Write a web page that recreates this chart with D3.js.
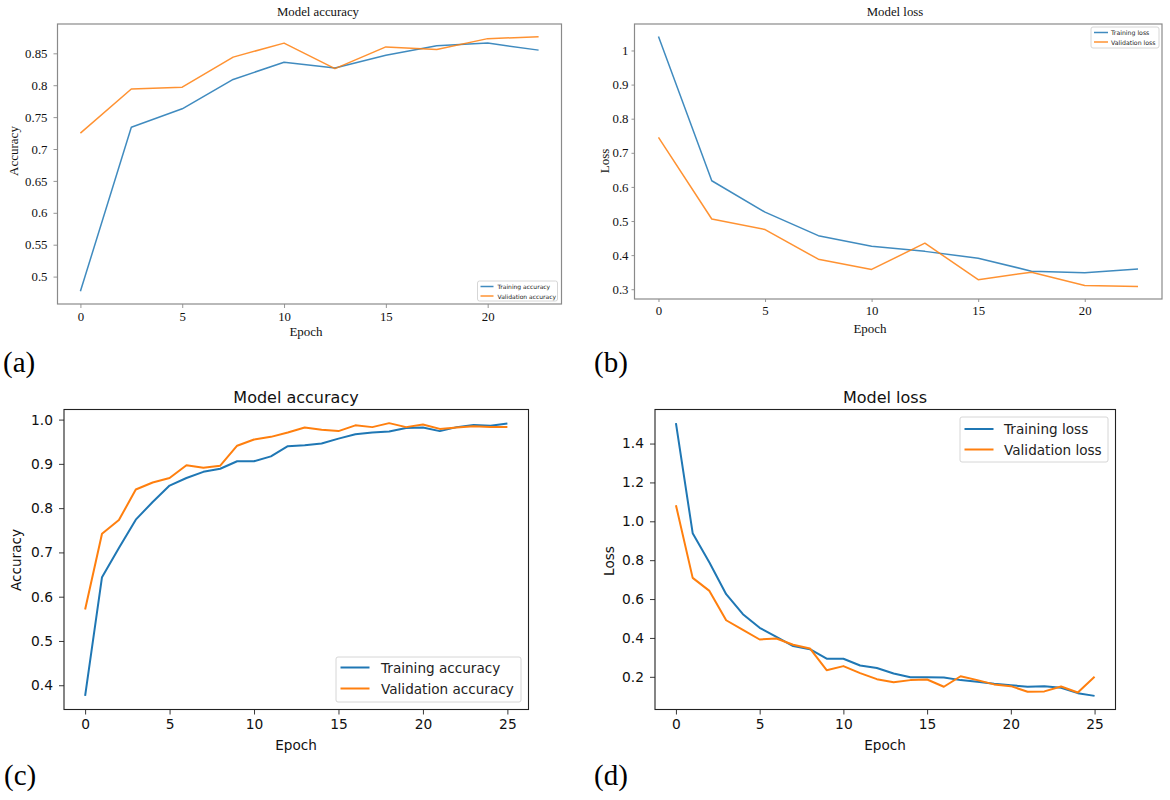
<!DOCTYPE html>
<html>
<head>
<meta charset="utf-8">
<script src="https://cdn.jsdelivr.net/npm/d3@7"></script>
<style>
  body { margin: 0; background: #fff; }
  svg { display: block; }
</style>
</head>
<body>
<svg id="chart" width="1170" height="800"></svg>
<script>

// ---- data ----
const epochsAB = [0, 2.5, 5, 7.5, 10, 12.5, 15, 17.5, 20, 22.5];
const trainAccA = [0.477, 0.734, 0.763, 0.809, 0.836, 0.827, 0.847, 0.862, 0.866, 0.855];
const valAccA   = [0.725, 0.794, 0.797, 0.844, 0.866, 0.826, 0.860, 0.856, 0.873, 0.876];
const trainLossB = [1.041, 0.618, 0.526, 0.457, 0.426, 0.411, 0.391, 0.353, 0.348, 0.359];
const valLossB   = [0.745, 0.506, 0.475, 0.388, 0.358, 0.435, 0.328, 0.350, 0.311, 0.308];

const epochsCD = [0, 1, 2, 3, 4, 5, 6, 7, 8, 9, 10, 11, 12, 13, 14, 15, 16, 17, 18, 19, 20, 21, 22, 23, 24, 25];
const trainAccC = [0.376, 0.644, 0.710, 0.774, 0.814, 0.851, 0.868, 0.882, 0.889, 0.906, 0.906, 0.917, 0.940,
                   0.942, 0.946, 0.957, 0.967, 0.971, 0.973, 0.981, 0.982, 0.974, 0.983, 0.988, 0.986, 0.991];
const valAccC   = [0.571, 0.742, 0.773, 0.842, 0.858, 0.868, 0.897, 0.891, 0.896, 0.941, 0.955, 0.961, 0.971,
                   0.982, 0.977, 0.974, 0.987, 0.983, 0.992, 0.983, 0.989, 0.979, 0.982, 0.985, 0.983, 0.983];
const trainLossD = [1.505, 0.939, 0.788, 0.625, 0.522, 0.452, 0.406, 0.358, 0.342, 0.293, 0.293, 0.258, 0.245,
                    0.217, 0.198, 0.198, 0.197, 0.183, 0.174, 0.164, 0.157, 0.149, 0.152, 0.144, 0.116, 0.102];
const valLossD   = [1.083, 0.709, 0.642, 0.491, 0.442, 0.392, 0.397, 0.365, 0.346, 0.234, 0.255, 0.219, 0.188,
                    0.172, 0.183, 0.186, 0.149, 0.203, 0.183, 0.161, 0.152, 0.123, 0.125, 0.150, 0.119, 0.200];

const xTicksAB = [0, 5, 10, 15, 20];
const xTicksCD = [0, 5, 10, 15, 20, 25];
const yTicksA = [0.5, 0.55, 0.6, 0.65, 0.7, 0.75, 0.8, 0.85];
const yLabelsA = ["0.5", "0.55", "0.6", "0.65", "0.7", "0.75", "0.8", "0.85"];
const yTicksB = [0.3, 0.4, 0.5, 0.6, 0.7, 0.8, 0.9, 1];
const yLabelsB = ["0.3", "0.4", "0.5", "0.6", "0.7", "0.8", "0.9", "1"];
const yTicksC = [0.4, 0.5, 0.6, 0.7, 0.8, 0.9, 1.0];
const yLabelsC = ["0.4", "0.5", "0.6", "0.7", "0.8", "0.9", "1.0"];
const yTicksD = [0.2, 0.4, 0.6, 0.8, 1.0, 1.2, 1.4];
const yLabelsD = ["0.2", "0.4", "0.6", "0.8", "1.0", "1.2", "1.4"];

const blue = "#1f77b4", orange = "#ff7f0e";

const svg = d3.select("#chart");

// matplotlib style padding: 5% on each side of the data range
function padded(vals) {
  const [lo, hi] = d3.extent(vals);
  const m = (hi - lo) * 0.05;
  return [lo - m, hi + m];
}

function panel(cfg) {
  const g = svg.append("g");
  const x = d3.scaleLinear().domain(padded(cfg.xs)).range([cfg.left, cfg.right]);
  const y = d3.scaleLinear().domain(padded(cfg.series[0].vals.concat(cfg.series[1].vals))).range([cfg.bottom, cfg.top]);

  const xAxis = g.append("g")
    .attr("transform", "translate(0," + cfg.bottom + ")")
    .call(d3.axisBottom(x).tickValues(cfg.xTicks).tickFormat(d3.format("d"))
      .tickSize(cfg.tickLen).tickPadding(cfg.xPad));
  const yAxis = g.append("g")
    .attr("transform", "translate(" + cfg.left + ",0)")
    .call(d3.axisLeft(y).tickValues(cfg.yTicks).tickFormat((d, i) => cfg.yLabels[i])
      .tickSize(cfg.tickLen).tickPadding(cfg.yPad));

  [xAxis, yAxis].forEach(a => {
    a.select(".domain").remove();
    a.selectAll("line").attr("stroke", cfg.frameColor).attr("stroke-width", 0.9);
    a.selectAll("text")
      .attr("font-family", cfg.font)
      .attr("font-size", cfg.tickSize)
      .attr("fill", "#111");
  });

  const line = d3.line()
    .x((d, i) => x(cfg.xs[i]))
    .y(d => y(d));

  cfg.series.forEach(s => {
    g.append("path")
      .datum(s.vals)
      .attr("fill", "none")
      .attr("stroke", s.color)
      .attr("stroke-opacity", cfg.lineOpacity)
      .attr("stroke-width", cfg.lineWidth)
      .attr("stroke-linejoin", "round")
      .attr("d", line);
  });

  // frame
  g.append("rect")
    .attr("x", cfg.left).attr("y", cfg.top)
    .attr("width", cfg.right - cfg.left).attr("height", cfg.bottom - cfg.top)
    .attr("fill", "none")
    .attr("stroke", cfg.frameColor)
    .attr("stroke-width", cfg.frameWidth);

  // titles
  g.append("text")
    .attr("x", cfg.titleX)
    .attr("y", cfg.top - cfg.titleGap)
    .attr("text-anchor", "middle")
    .attr("font-family", cfg.font)
    .attr("font-size", cfg.titleSize)
    .attr("fill", "#111")
    .text(cfg.title);

  g.append("text")
    .attr("x", cfg.xLabelX)
    .attr("y", cfg.xLabelY)
    .attr("text-anchor", "middle")
    .attr("font-family", cfg.font)
    .attr("font-size", cfg.labelSize)
    .attr("fill", "#111")
    .text("Epoch");

  g.append("text")
    .attr("transform", "translate(" + cfg.yLabelX + "," + cfg.yLabelY + ") rotate(-90)")
    .attr("text-anchor", "middle")
    .attr("dominant-baseline", "central")
    .attr("font-family", cfg.font)
    .attr("font-size", cfg.labelSize)
    .attr("fill", "#111")
    .text(cfg.yLabel);

  // legend
  const L = cfg.legend;
  const lg = g.append("g").attr("transform", "translate(" + L.x + "," + L.y + ")");
  lg.append("rect")
    .attr("width", L.w).attr("height", L.h)
    .attr("rx", 2)
    .attr("fill", "#fff")
    .attr("fill-opacity", 0.8)
    .attr("stroke", "#d6d6d6")
    .attr("stroke-width", 1);
  cfg.series.forEach((s, i) => {
    const yy = L.pad + i * L.step;
    lg.append("line")
      .attr("x1", L.lineX).attr("x2", L.lineX + L.lineLen)
      .attr("y1", yy).attr("y2", yy)
      .attr("stroke", s.color)
      .attr("stroke-opacity", cfg.lineOpacity)
      .attr("stroke-width", cfg.lineWidth);
    lg.append("text")
      .attr("x", L.textX)
      .attr("y", yy)
      .attr("dominant-baseline", "central")
      .attr("font-family", L.font)
      .attr("font-size", L.size)
      .attr("fill", "#222")
      .text(s.name);
  });

  // panel letter
  svg.append("text")
    .attr("x", cfg.letterX)
    .attr("y", cfg.letterY)
    .attr("font-family", "Liberation Serif, Times New Roman, serif")
    .attr("font-size", 29)
    .attr("fill", "#000")
    .text(cfg.letter);
}

const serif = "Liberation Serif, Times New Roman, serif";
const sans = "DejaVu Sans, sans-serif";

panel({
  xs: epochsAB, xTicks: xTicksAB, yTicks: yTicksA, yLabels: yLabelsA,
  left: 57.5, right: 561.5, top: 24, bottom: 304,
  series: [{name: "Training accuracy", vals: trainAccA, color: blue},
           {name: "Validation accuracy", vals: valAccA, color: orange}],
  font: serif, tickSize: 12.8, labelSize: 13, titleSize: 12.8, tickLen: 4, xPad: 4, yPad: 6,
  title: "Model accuracy", titleX: 318, titleGap: 8,
  xLabelX: 306, xLabelY: 336, yLabel: "Accuracy", yLabelX: 13, yLabelY: 151,
  frameColor: "#8a8a8a", frameWidth: 1.2, lineWidth: 1.5, lineOpacity: 0.85,
  legend: {x: 477.5, y: 281, w: 80, h: 20, pad: 5.5, step: 9.5, lineX: 3, lineLen: 13, textX: 20, size: 6, font: sans},
  letter: "(a)", letterX: 3, letterY: 372
});

panel({
  xs: epochsAB, xTicks: xTicksAB, yTicks: yTicksB, yLabels: yLabelsB,
  left: 634.5, right: 1162, top: 24, bottom: 299,
  series: [{name: "Training loss", vals: trainLossB, color: blue},
           {name: "Validation loss", vals: valLossB, color: orange}],
  font: serif, tickSize: 12.8, labelSize: 13, titleSize: 12.8, tickLen: 3, xPad: 3.5, yPad: 3,
  title: "Model loss", titleX: 895, titleGap: 8,
  xLabelX: 870, xLabelY: 333, yLabel: "Loss", yLabelX: 604, yLabelY: 161,
  frameColor: "#8a8a8a", frameWidth: 1.2, lineWidth: 1.5, lineOpacity: 0.85,
  legend: {x: 1091, y: 27, w: 68, h: 21, pad: 5.5, step: 9.5, lineX: 3, lineLen: 14, textX: 20, size: 6.2, font: sans},
  letter: "(b)", letterX: 594, letterY: 372
});

panel({
  xs: epochsCD, xTicks: xTicksCD, yTicks: yTicksC, yLabels: yLabelsC,
  left: 64, right: 528.5, top: 409.5, bottom: 709.5,
  series: [{name: "Training accuracy", vals: trainAccC, color: blue},
           {name: "Validation accuracy", vals: valAccC, color: orange}],
  font: sans, tickSize: 13.8, labelSize: 13.6, titleSize: 16, tickLen: 5, xPad: 5, yPad: 6,
  title: "Model accuracy", titleX: 296, titleGap: 7,
  xLabelX: 296, xLabelY: 750, yLabel: "Accuracy", yLabelX: 16, yLabelY: 560,
  frameColor: "#222", frameWidth: 1.1, lineWidth: 2, lineOpacity: 1,
  legend: {x: 336, y: 657, w: 185, h: 45, pad: 10.5, step: 21, lineX: 4.5, lineLen: 29, textX: 45, size: 13.6, font: sans},
  letter: "(c)", letterX: 4, letterY: 785
});

panel({
  xs: epochsCD, xTicks: xTicksCD, yTicks: yTicksD, yLabels: yLabelsD,
  left: 655, right: 1115.5, top: 409.5, bottom: 709.5,
  series: [{name: "Training loss", vals: trainLossD, color: blue},
           {name: "Validation loss", vals: valLossD, color: orange}],
  font: sans, tickSize: 13.8, labelSize: 13.6, titleSize: 16, tickLen: 5, xPad: 5, yPad: 6,
  title: "Model loss", titleX: 885, titleGap: 7,
  xLabelX: 885, xLabelY: 750, yLabel: "Loss", yLabelX: 609, yLabelY: 561,
  frameColor: "#222", frameWidth: 1.1, lineWidth: 2, lineOpacity: 1,
  legend: {x: 960, y: 417, w: 148, h: 45, pad: 12, step: 20.5, lineX: 4.5, lineLen: 29, textX: 44, size: 13.6, font: sans},
  letter: "(d)", letterX: 594, letterY: 785
});

</script>
</body>
</html>
